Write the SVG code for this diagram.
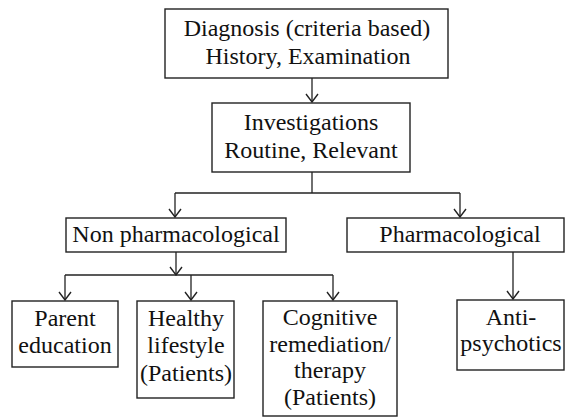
<svg xmlns="http://www.w3.org/2000/svg" width="565" height="417" viewBox="0 0 565 417">
<defs>
<style>
.box{fill:#fff;stroke:#222;stroke-width:1.4}
.ln{fill:none;stroke:#222;stroke-width:1.3}
text{font-family:"Liberation Serif","Times New Roman",serif;font-size:24px;fill:#111;text-anchor:middle}
</style>
<marker id="arr" markerUnits="userSpaceOnUse" markerWidth="14" markerHeight="14" refX="13" refY="7" orient="auto" viewBox="0 0 14 14">
<path d="M5,1 L13,7 L5,13" fill="none" stroke="#222" stroke-width="1.4"/>
</marker>
</defs>
<rect width="565" height="417" fill="#fff"/>
<g id="connectors">
<path class="ln" d="M312,78 V102" marker-end="url(#arr)"/>
<path class="ln" d="M312,172 V193"/>
<path class="ln" d="M175,193 H460"/>
<path class="ln" d="M175,193 V217" marker-end="url(#arr)"/>
<path class="ln" d="M460,193 V217" marker-end="url(#arr)"/>
<path class="ln" d="M176,252 V275" marker-end="url(#arr)"/>
<path class="ln" d="M65,275 H333"/>
<path class="ln" d="M65,275 V300" marker-end="url(#arr)"/>
<path class="ln" d="M191,275 V300" marker-end="url(#arr)"/>
<path class="ln" d="M333,275 V300" marker-end="url(#arr)"/>
<path class="ln" d="M513,252 V299" marker-end="url(#arr)"/>
</g>
<g id="diagnosis">
<rect class="box" x="165" y="9" width="283" height="69"/>
<text x="307" y="36">Diagnosis (criteria based)</text>
<text x="308" y="64">History, Examination</text>
</g>
<g id="investigations">
<rect class="box" x="212" y="103" width="198" height="69"/>
<text x="311" y="130">Investigations</text>
<text x="311" y="158">Routine, Relevant</text>
</g>
<g id="nonpharm">
<rect class="box" x="66" y="218" width="220" height="34"/>
<text x="176" y="242">Non pharmacological</text>
</g>
<g id="pharm">
<rect class="box" x="347" y="218" width="217" height="34"/>
<text x="460" y="242">Pharmacological</text>
</g>
<g id="parent">
<rect class="box" x="12" y="301" width="106" height="66"/>
<text x="65" y="326">Parent</text>
<text x="65" y="353">education</text>
</g>
<g id="healthy">
<rect class="box" x="137" y="301" width="97" height="97"/>
<text x="186" y="326">Healthy</text>
<text x="186" y="353">lifestyle</text>
<text x="186" y="381">(Patients)</text>
</g>
<g id="cognitive">
<rect class="box" x="263" y="301" width="134" height="115"/>
<text x="330" y="325">Cognitive</text>
<text x="330" y="352">remediation/</text>
<text x="330" y="378">therapy</text>
<text x="330" y="405">(Patients)</text>
</g>
<g id="antipsychotics">
<rect class="box" x="457" y="300" width="107" height="70"/>
<text x="511" y="325">Anti-</text>
<text x="511" y="351">psychotics</text>
</g>
</svg>
